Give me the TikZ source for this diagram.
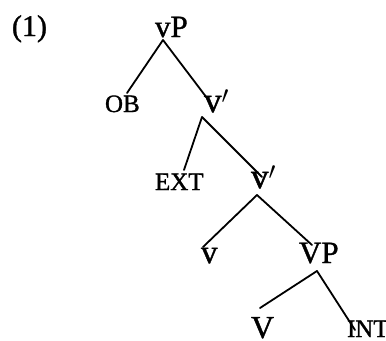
\documentclass[tikz,border=0pt]{standalone}
\usepackage{fontspec}
\setmainfont[FakeBold=1.2]{Liberation Serif}
\usetikzlibrary{calc}
\begin{document}
\begin{tikzpicture}[x=1bp,y=-1bp,
  lbl/.style={inner sep=0pt,outer sep=0pt,anchor=base west},
  edge/.style={line width=1.8bp,line cap=round}]
\useasboundingbox (0,0) rectangle (386,341);
\node[lbl,font=\fontsize{30bp}{30bp}\selectfont] (num) at (12,36) {(1)};
\node[lbl,font=\fontsize{31bp}{31bp}\selectfont] (vP) at (155,37) {vP};
\node[lbl,font=\fontsize{25bp}{25bp}\selectfont] (OB) at (105,112) {OB};
\node[lbl,font=\fontsize{35bp}{35bp}\selectfont] (v1) at (204,112) {v$'$};
\node[lbl,font=\fontsize{25bp}{25bp}\selectfont] (EXT) at (155,190) {EXT};
\node[lbl,font=\fontsize{35bp}{35bp}\selectfont] (v2) at (251,188) {v$'$};
\node[lbl,font=\fontsize{33bp}{33bp}\selectfont] (vl) at (201,263) {v};
\node[lbl,font=\fontsize{31bp}{31bp}\selectfont] (VP) at (299,263) {VP};
\node[lbl,font=\fontsize{32bp}{32bp}\selectfont] (V) at (251,338) {V};
\node[lbl,font=\fontsize{25bp}{25bp}\selectfont] (INT) at (347,337) {INT};
\draw[edge] ($(vP.base west)+(8,3)$) -- ($(OB.base west)+(22,-19)$);
\draw[edge] ($(vP.base west)+(8,3)$) -- ($(v1.base west)+(6,-10)$);
\draw[edge] ($(v1.base west)+(-2,5)$) -- ($(EXT.base west)+(29,-20)$);
\draw[edge] ($(v1.base west)+(-2,5)$) -- ($(v2.base west)+(11,-11)$);
\draw[edge] ($(v2.base west)+(6,7)$) -- ($(vl.base west)+(2,-16)$);
\draw[edge] ($(v2.base west)+(6,7)$) -- ($(VP.base west)+(13,-18)$);
\draw[edge] ($(VP.base west)+(18,8)$) -- ($(V.base west)+(9,-30)$);
\draw[edge] ($(VP.base west)+(18,8)$) -- ($(INT.base west)+(8,-7)$);
\end{tikzpicture}
\end{document}
